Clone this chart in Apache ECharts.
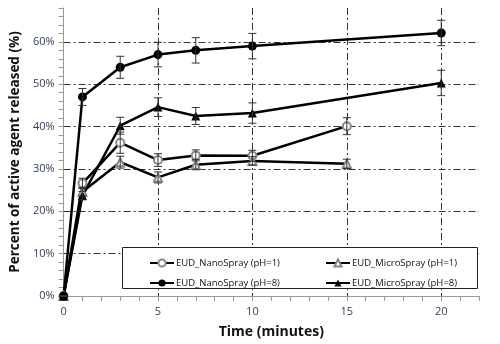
<!DOCTYPE html>
<html>
<head>
<meta charset="utf-8">
<script src="https://cdn.jsdelivr.net/npm/echarts@6/dist/echarts.min.js"></script>
<style>
  html, body { margin: 0; padding: 0; background: #fff; }
  #chart { width: 500px; height: 344px; }
</style>
</head>
<body>
<div id="chart"></div>
<script>
// time points (minutes)
const timesPh1 = [0, 1, 3, 5, 7, 10, 15];
const timesPh8 = [0, 1, 3, 5, 7, 10, 20];

// % released, with +/- error
const nanoPh1 = [0, 26.6, 36.2, 32.1, 33.2, 33.1, 40.1];
const nanoPh1Err = [0, 1.2, 2.5, 1.5, 1.3, 1.3, 2.0];
const microPh1 = [0, 24.6, 31.6, 28.0, 31.0, 31.9, 31.2];
const microPh1Err = [0, 1.0, 1.4, 1.3, 1.2, 1.0, 1.1];
const nanoPh8 = [0, 47.0, 54.0, 57.0, 58.0, 59.0, 62.1];
const nanoPh8Err = [0, 2.0, 2.6, 2.9, 3.0, 3.0, 3.0];
const microPh8 = [0, 23.7, 40.2, 44.6, 42.5, 43.2, 50.3];
const microPh8Err = [0, 1.0, 2.0, 2.2, 2.0, 2.4, 3.0];

const seriesNames = ['EUD_NanoSpray (pH=1)', 'EUD_MicroSpray (pH=1)', 'EUD_NanoSpray (pH=8)', 'EUD_MicroSpray (pH=8)'];

const FONT = '"Open Sans", sans-serif';
const LABEL_COLOR = '#34405e';
const AXIS_COLOR = '#999';
const GRID_DASH = [7, 3, 2, 3];

const pairs = (xs, ys) => xs.map((x, i) => [x, ys[i]]);
const errData = (xs, ys, es) => xs.map((x, i) => [x, ys[i] - es[i], ys[i] + es[i]]);

function renderErrorBar(params, api) {
    const x = api.value(0);
    const top = api.coord([x, api.value(2)]);
    const bot = api.coord([x, api.value(1)]);
    const cap = 4;
    const style = {stroke: '#333', lineWidth: 1};
    return {
        type: 'group',
        children: [
            {type: 'line', shape: {x1: top[0], y1: top[1], x2: bot[0], y2: bot[1]}, style},
            {type: 'line', shape: {x1: top[0] - cap, y1: top[1], x2: top[0] + cap, y2: top[1]}, style},
            {type: 'line', shape: {x1: bot[0] - cap, y1: bot[1], x2: bot[0] + cap, y2: bot[1]}, style},
        ],
    };
}

function lineSeries(name, xs, ys, symbol, color, size) {
    return {
        name: name,
        type: 'line',
        data: pairs(xs, ys),
        symbol: symbol,
        symbolSize: size,
        showAllSymbol: true,
        itemStyle: {color: color, borderWidth: 1},
        lineStyle: {color: '#000', width: 2.5},
        z: 2,
    };
}

function errSeries(xs, ys, es) {
    return {
        type: 'custom',
        renderItem: renderErrorBar,
        data: errData(xs, ys, es),
        encode: {x: 0, y: [1, 2]},
        silent: true,
        z: 3,
    };
}

const chart = echarts.init(document.getElementById('chart'));
chart.setOption({
    animation: false,
    grid: {left: 63, right: 21, top: 8, bottom: 48},
    xAxis: [
        {
            type: 'value', min: 0, max: 22, interval: 1,
            axisLine: {lineStyle: {color: AXIS_COLOR, width: 1}},
            axisTick: {show: true, length: 5, lineStyle: {color: AXIS_COLOR}},
            axisLabel: {
                color: LABEL_COLOR, fontFamily: FONT, fontSize: 11, margin: 10,
                formatter: (v) => (v % 5 === 0 ? String(v) : ''),
            },
            splitLine: {show: false},
            name: 'Time (minutes)', nameLocation: 'middle', nameGap: 29,
            nameTextStyle: {color: '#111', fontFamily: FONT, fontSize: 14, fontWeight: 'bold'},
        },
        {
            type: 'value', min: 0, max: 22, interval: 5, position: 'bottom',
            axisLine: {show: false}, axisTick: {show: false}, axisLabel: {show: false},
            splitLine: {show: true, showMinLine: false, showMaxLine: false, lineStyle: {color: '#333', width: 1, type: GRID_DASH}},
        },
    ],
    yAxis: [
        {
            type: 'value', min: 0, max: 68, interval: 2,
            axisLine: {show: true, lineStyle: {color: AXIS_COLOR, width: 1}},
            axisTick: {show: true, length: 5, lineStyle: {color: AXIS_COLOR}},
            axisLabel: {
                color: LABEL_COLOR, fontFamily: FONT, fontSize: 11, margin: 9,
                formatter: (v) => (v % 10 === 0 ? v + '%' : ''),
            },
            splitLine: {show: false},
            name: 'Percent of active agent released (%)', nameLocation: 'middle', nameGap: 41,
            nameTextStyle: {color: '#111', fontFamily: FONT, fontSize: 13.5, fontWeight: 'bold'},
        },
        {
            type: 'value', min: 0, max: 68, interval: 10, position: 'left',
            axisLine: {show: false}, axisTick: {show: false}, axisLabel: {show: false},
            splitLine: {show: true, showMinLine: false, showMaxLine: false, lineStyle: {color: '#333', width: 1, type: GRID_DASH}},
        },
    ],
    legend: [
        {
            data: [seriesNames[0], seriesNames[2]],
            orient: 'vertical', left: 144, top: 253, itemGap: 10,
            itemWidth: 24, itemHeight: 9,
            textStyle: {fontFamily: FONT, fontSize: 9.5, color: '#111', padding: [0, 0, 0, -3]},
            z: 6,
        },
        {
            data: [seriesNames[1], seriesNames[3]],
            orient: 'vertical', left: 320, top: 253, itemGap: 10,
            itemWidth: 24, itemHeight: 9,
            textStyle: {fontFamily: FONT, fontSize: 9.5, color: '#111', padding: [0, 0, 0, -3]},
            z: 6,
        },
    ],
    graphic: [
        {
            type: 'rect', left: 122, top: 247, z: 5,
            shape: {width: 355, height: 41},
            style: {fill: '#fff', stroke: '#222', lineWidth: 1},
        },
    ],
    series: [
        lineSeries(seriesNames[0], timesPh1, nanoPh1, 'emptyCircle', '#888', 8),
        lineSeries(seriesNames[1], timesPh1, microPh1, 'emptyTriangle', '#888', 8),
        lineSeries(seriesNames[2], timesPh8, nanoPh8, 'circle', '#000', 9),
        lineSeries(seriesNames[3], timesPh8, microPh8, 'triangle', '#000', 9),
        errSeries(timesPh1, nanoPh1, nanoPh1Err),
        errSeries(timesPh1, microPh1, microPh1Err),
        errSeries(timesPh8, nanoPh8, nanoPh8Err),
        errSeries(timesPh8, microPh8, microPh8Err),
    ],
});
</script>
</body>
</html>
